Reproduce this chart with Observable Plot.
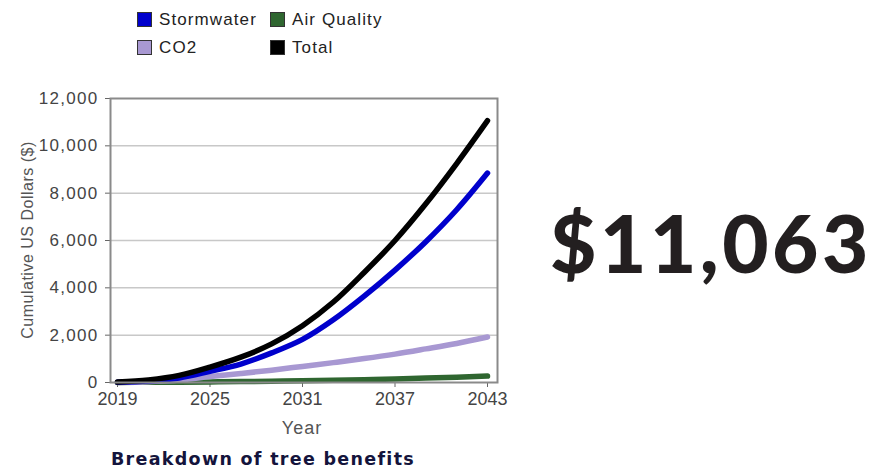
<!DOCTYPE html>
<html>
<head>
<meta charset="utf-8">
<script src="https://cdn.jsdelivr.net/npm/d3@7"></script>
<script src="https://cdn.jsdelivr.net/npm/@observablehq/plot@0.6"></script>
<style>
  body { margin: 0; background: #fff; }
  #wrap { position: relative; width: 876px; height: 469px; overflow: hidden; background: #fff; font-family: "Liberation Sans", Arial, sans-serif; }
  #chart { position: absolute; left: 0; top: 0; }
  .lg { position: absolute; font-size: 17px; letter-spacing: 1.1px; color: #222; line-height: 17px; white-space: nowrap; }
  .sw { position: absolute; width: 13px; height: 13px; border: 1px solid #333; }
  .abs { position: absolute; white-space: nowrap; }
</style>
</head>
<body>
<div id="wrap"></div>
<script>
// ---- data ----
const years      = [2019, 2021, 2023, 2025, 2027, 2029, 2031, 2033, 2035, 2037, 2039, 2041, 2043];
const stormwater = [10, 60, 190, 470, 780, 1250, 1820, 2650, 3650, 4750, 5950, 7300, 8850];
const co2        = [5, 35, 100, 250, 380, 520, 680, 840, 1010, 1200, 1420, 1650, 1920];
const airQuality = [2, 8, 15, 25, 40, 55, 75, 95, 120, 150, 185, 225, 270];
const total      = [20, 110, 300, 650, 1070, 1630, 2400, 3400, 4650, 6000, 7550, 9250, 11063];
const seriesNames  = ["Stormwater", "Air Quality", "CO2", "Total"];
const seriesColors = ["#0000cc", "#2f6630", "#a898d2", "#000000"];
const xTicks = [2019, 2025, 2031, 2037, 2043];
const yTicks = [0, 2000, 4000, 6000, 8000, 10000, 12000];
const gridTicks = [2000, 4000, 6000, 8000, 10000];
const yLabel = "Cumulative US Dollars ($)";
const xLabel = "Year";
const chartTitle = "Breakdown of tree benefits";
const bigNumber = "$11,063";

const seriesValues = {"Stormwater": stormwater, "Air Quality": airQuality, "CO2": co2, "Total": total};
const drawOrder = ["Air Quality", "CO2", "Stormwater", "Total"];
const rows = drawOrder.flatMap(name => years.map((y, i) => ({year: y, value: seriesValues[name][i], series: name})));

const wrap = document.getElementById("wrap");

const chart = Plot.plot({
  width: 520,
  height: 469,
  marginLeft: 110,
  marginRight: 23,
  marginTop: 98,
  marginBottom: 87,
  style: {fontFamily: "Liberation Sans, Arial, sans-serif", color: "#444", background: "transparent"},
  x: {domain: [2019, 2043], insetLeft: 7, insetRight: 10},
  y: {domain: [0, 12000]},
  color: {domain: seriesNames, range: seriesColors},
  marks: [
    Plot.gridY(gridTicks, {stroke: "#c8c8c8", strokeOpacity: 1, strokeWidth: 1.5}),
    Plot.axisY({ticks: yTicks, tickSize: 5, tickPadding: 7, fontSize: 17, label: null, tickFormat: d3.format(","), stroke: "#666"}),
    Plot.axisX({ticks: xTicks, tickSize: 5, tickPadding: 5, fontSize: 18, label: null, tickFormat: d => String(d), stroke: "#666"}),
    Plot.line(rows, {x: "year", y: "value", z: "series", stroke: "series", strokeWidth: 5.5, curve: "catmull-rom"}),
    Plot.frame({stroke: "#8a8a8a", strokeWidth: 2})
  ]
});
chart.id = "chart";
wrap.appendChild(chart);
// widen the y tick labels like the (horizontally stretched) reference
chart.querySelectorAll("text").forEach(t => {
  if (/^\d{1,2},\d{3}$|^0$/.test(t.textContent.trim())) t.style.letterSpacing = "1.3px";
});

// legend
const legendPos = [[137, 12], [270, 12], [137, 40], [270, 40]];
seriesNames.forEach((name, i) => {
  const [lx, ly] = legendPos[i];
  const sw = document.createElement("div");
  sw.className = "sw";
  sw.style.left = lx + "px"; sw.style.top = ly + "px";
  sw.style.background = seriesColors[i];
  wrap.appendChild(sw);
  const t = document.createElement("div");
  t.className = "lg";
  t.textContent = name;
  t.style.left = (lx + 22) + "px"; t.style.top = (ly - 1) + "px";
  wrap.appendChild(t);
});

// y label (rotated)
const yl = document.createElement("div");
yl.className = "abs";
yl.textContent = yLabel;
yl.style.cssText += "left:28px;top:240px;font-size:16px;letter-spacing:0.5px;color:#555;transform:translate(-50%,-50%) rotate(-90deg);";
wrap.appendChild(yl);

// x label
const xl = document.createElement("div");
xl.className = "abs";
xl.textContent = xLabel;
xl.style.cssText += "left:302px;top:428px;font-size:18px;letter-spacing:1px;color:#555;transform:translate(-50%,-50%);";
wrap.appendChild(xl);

// title
const tt = document.createElement("div");
tt.className = "abs";
tt.textContent = chartTitle;
tt.style.cssText += "left:263px;top:459px;font-family:'DejaVu Sans',sans-serif;font-weight:bold;font-size:17.5px;letter-spacing:1.3px;color:#14143c;transform:translate(-50%,-50%);";
wrap.appendChild(tt);

// big number
const bn = document.createElement("div");
bn.className = "abs";
bn.textContent = bigNumber;
bn.style.cssText += "left:711px;top:242px;font-family:Lato,'Open Sans',sans-serif;font-weight:900;font-size:80px;letter-spacing:3.5px;color:#231f20;transform:translate(-50%,-50%);";
wrap.appendChild(bn);
</script>
</body>
</html>
